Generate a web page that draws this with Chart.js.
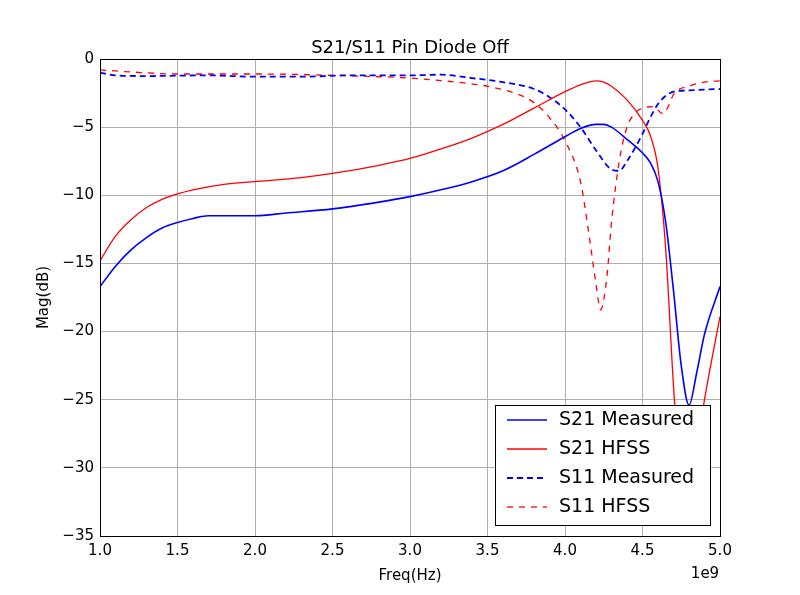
<!DOCTYPE html>
<html>
<head>
<script src="https://cdn.jsdelivr.net/npm/chart.js@4"></script>
<style>
  body { margin: 0; background: #fff; }
  #wrap { width: 800px; height: 595px; }
</style>
</head>
<body>
<div id="wrap"><canvas id="c" width="800" height="595"></canvas></div>
<script>
const xTicks = [1.0, 1.5, 2.0, 2.5, 3.0, 3.5, 4.0, 4.5, 5.0];
const yTicks = [0, -5, -10, -15, -20, -25, -30, -35];

const s21MeasFreq = [1.0, 1.1, 1.2, 1.3, 1.4, 1.5, 1.6, 1.7, 1.8, 2.0, 2.2, 2.5, 2.8, 3.0, 3.2, 3.4, 3.6, 3.8, 4.0, 4.1, 4.2, 4.25, 4.3, 4.4, 4.5, 4.55, 4.6, 4.65, 4.7, 4.75, 4.8, 4.85, 4.9, 5.0];
const s21Meas = [-16.7, -15.2, -14.0, -13.1, -12.4, -12.0, -11.7, -11.5, -11.5, -11.5, -11.3, -11.0, -10.5, -10.1, -9.6, -9.0, -8.2, -7.0, -5.7, -5.1, -4.8, -4.8, -5.0, -5.9, -6.9, -7.6, -9.0, -12.0, -17.0, -22.5, -25.4, -23.0, -20.2, -16.7];

const s21HfssFreq = [1.0, 1.1, 1.2, 1.3, 1.4, 1.5, 1.6, 1.8, 2.0, 2.3, 2.5, 2.8, 3.0, 3.2, 3.4, 3.6, 3.8, 4.0, 4.1, 4.2, 4.25, 4.3, 4.4, 4.5, 4.55, 4.6, 4.65, 4.7, 4.74, 4.8, 4.86, 4.9, 5.0];
const s21Hfss = [-14.8, -13.0, -11.8, -10.9, -10.3, -9.9, -9.6, -9.2, -9.0, -8.7, -8.4, -7.8, -7.3, -6.6, -5.8, -4.8, -3.6, -2.4, -1.9, -1.6, -1.7, -2.0, -3.0, -4.5, -5.6, -8.0, -14.0, -24.0, -30.0, -34.0, -28.0, -25.0, -18.9];

const s11MeasFreq = [1.0, 1.1, 1.3, 1.7, 2.0, 2.3, 2.6, 3.0, 3.2, 3.4, 3.6, 3.8, 3.9, 4.0, 4.1, 4.2, 4.3, 4.35, 4.4, 4.5, 4.55, 4.6, 4.65, 4.7, 4.8, 5.0];
const s11Meas = [-1.0, -1.2, -1.25, -1.2, -1.3, -1.3, -1.2, -1.2, -1.15, -1.4, -1.7, -2.2, -2.8, -3.7, -5.0, -6.7, -8.1, -8.2, -7.5, -5.5, -4.3, -3.3, -2.7, -2.4, -2.3, -2.2];

const s11HfssFreq = [1.0, 1.2, 1.5, 2.0, 2.5, 3.0, 3.3, 3.5, 3.7, 3.8, 3.9, 4.0, 4.1, 4.15, 4.2, 4.23, 4.27, 4.3, 4.35, 4.4, 4.45, 4.5, 4.57, 4.63, 4.67, 4.7, 4.8, 4.9, 5.0];
const s11Hfss = [-0.8, -0.95, -1.1, -1.1, -1.2, -1.4, -1.7, -2.0, -2.6, -3.2, -4.3, -6.0, -9.0, -12.5, -16.5, -18.4, -16.0, -12.0, -7.5, -5.0, -4.0, -3.6, -3.5, -4.0, -3.4, -2.6, -2.0, -1.7, -1.6];

const toPts = (xs, ys) => xs.map((x, i) => ({ x: x, y: ys[i] }));
const FONT = 'DejaVu Sans';
const minus = v => String(v).replace('-', '\u2212');

function line(label, xs, ys, color, dash, w) {
  return {
    label: label, data: toPts(xs, ys), borderColor: color, borderWidth: w,
    borderDash: dash, pointRadius: 0, fill: false, cubicInterpolationMode: 'monotone'
  };
}

const decor = {
  id: 'decor',
  afterDraw(chart) {
    const ctx = chart.ctx, a = chart.chartArea;
    ctx.save();
    ctx.strokeStyle = '#000'; ctx.lineWidth = 1;
    ctx.strokeRect(a.left + 0.5, a.top + 0.5, a.right - a.left, a.bottom - a.top);
    ctx.fillStyle = '#000';
    ctx.textAlign = 'center'; ctx.textBaseline = 'alphabetic';
    ctx.font = '18px ' + FONT;
    ctx.fillText('S21/S11 Pin Diode Off', (a.left + a.right) / 2, 53);
    ctx.font = '15px ' + FONT;
    ctx.fillText('Freq(Hz)', (a.left + a.right) / 2, 580);
    ctx.fillText('1e9', 705, 578);
    ctx.save();
    ctx.translate(48, (a.top + a.bottom) / 2);
    ctx.rotate(-Math.PI / 2);
    ctx.fillText('Mag(dB)', 0, 0);
    ctx.restore();
    // legend
    const bx = 495, by = 405, bw = 215, bh = 120;
    ctx.fillStyle = '#fff';
    ctx.fillRect(bx, by, bw, bh);
    ctx.strokeRect(bx + 0.5, by + 0.5, bw, bh);
    ctx.font = '19px ' + FONT;
    ctx.textAlign = 'left'; ctx.textBaseline = 'middle';
    chart.data.datasets.forEach((ds, i) => {
      const y = by + 15 + i * 29;
      ctx.strokeStyle = ds.borderColor; ctx.lineWidth = ds.borderWidth;
      ctx.setLineDash(ds.borderDash || []);
      ctx.beginPath(); ctx.moveTo(bx + 12, y); ctx.lineTo(bx + 52, y); ctx.stroke();
      ctx.setLineDash([]);
      ctx.fillStyle = '#000';
      ctx.fillText(ds.label, bx + 64, y);
    });
    ctx.restore();
  }
};

new Chart(document.getElementById('c'), {
  type: 'line',
  data: {
    datasets: [
      line('S21 Measured', s21MeasFreq, s21Meas, '#0000ff', [], 1.6),
      line('S21 HFSS', s21HfssFreq, s21Hfss, '#ff0000', [], 1.3),
      line('S11 Measured', s11MeasFreq, s11Meas, '#0000ff', [6, 4], 1.8),
      line('S11 HFSS', s11HfssFreq, s11Hfss, '#ff0000', [6, 6], 1.3)
    ]
  },
  options: {
    responsive: false, animation: false,
    layout: { padding: { top: 59, right: 80, left: 0, bottom: 0 } },
    plugins: { legend: { display: false }, tooltip: { enabled: false } },
    scales: {
      x: {
        type: 'linear', min: 1, max: 5,
        afterBuildTicks: s => { s.ticks = xTicks.map(v => ({ value: v })); },
        afterFit: s => { s.height = 59; },
        grid: { color: '#b0b0b0', drawTicks: false },
        border: { display: false },
        ticks: { color: '#000', font: { family: FONT, size: 15 }, padding: 6, maxRotation: 0, callback: v => v.toFixed(1) }
      },
      y: {
        type: 'linear', min: -35, max: 0,
        afterBuildTicks: s => { s.ticks = yTicks.map(v => ({ value: v })); },
        afterFit: s => { s.width = 100; },
        grid: { color: '#b0b0b0', drawTicks: false },
        border: { display: false },
        ticks: { color: '#000', font: { family: FONT, size: 15 }, padding: 6, callback: v => minus(v) }
      }
    }
  },
  plugins: [decor]
});
</script>
</body>
</html>
